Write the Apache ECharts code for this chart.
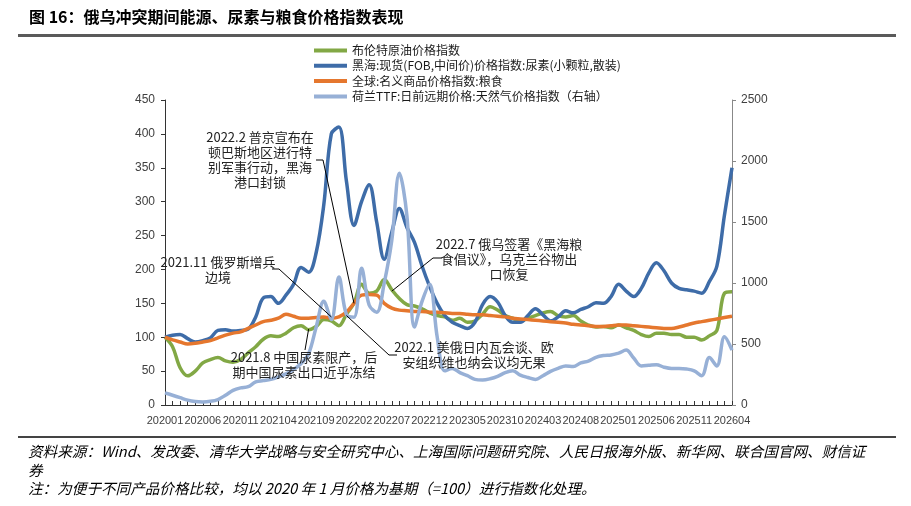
<!DOCTYPE html>
<html>
<head>
<meta charset="utf-8">
<script src="https://cdn.jsdelivr.net/npm/echarts@6/dist/echarts.min.js"></script>
<style>
html, body { margin: 0; padding: 0; background: #fff; }
#main { width: 911px; height: 506px; }
</style>
</head>
<body>
<div id="main"></div>
<script>
// 月份类目 202001 ~ 202604
var months = [];
for (var yr = 2020; yr <= 2026; yr++) {
    for (var mo = 1; mo <= 12; mo++) {
        if (yr === 2026 && mo > 4) break;
        months.push(yr + (mo < 10 ? '0' : '') + mo);
    }
}

var seriesNames = [
    '布伦特原油价格指数',
    '黑海:现货(FOB,中间价)价格指数:尿素(小颗粒,散装)',
    '全球:名义商品价格指数:粮食',
    '荷兰TTF:日前远期价格:天然气价格指数（右轴）'
];

var brent = [
    100, 86, 55, 43, 50, 62, 67, 70, 65, 63, 67, 77,
    86, 97, 102, 101, 106, 114, 117, 111, 116, 126, 124, 117,
    134, 150, 178, 165, 168, 185, 170, 157, 148, 146, 142, 136,
    132, 130, 125, 128, 122, 124, 134, 145, 140, 132, 128, 124,
    128, 132, 136, 138, 132, 130, 132, 124, 118, 115, 116, 114,
    118, 114, 110, 104, 101, 106, 106, 104, 104, 100, 100, 96,
    102, 110, 165, 167
];

var urea = [
    100, 103, 104, 98, 93, 95, 99, 110, 111, 109, 110, 112,
    130, 158, 160, 150, 162, 178, 203, 196, 225, 295, 400, 410,
    330, 265, 300, 325, 270, 215, 255, 290, 262, 240, 205, 175,
    150, 132, 122, 117, 113, 122, 148, 160, 152, 132, 122, 122,
    132, 142, 133, 124, 130, 139, 136, 141, 145, 151, 150, 160,
    178, 168, 160, 172, 195, 210, 198, 180, 172, 170, 168, 165,
    182, 205, 280, 350
];

var grain = [
    100, 96, 93, 90, 91, 93, 95, 99, 103, 106, 108, 113,
    118, 123, 125, 128, 134, 131, 128, 128, 129, 130, 128, 130,
    137, 150, 162, 163, 162, 150, 143, 140, 139, 138, 138, 137,
    137, 136, 135, 135, 134, 133, 133, 132, 131, 130, 128, 127,
    126, 125, 124, 123, 122, 121, 119, 118, 117, 116, 116, 117,
    118, 118, 117, 116, 115, 114, 113, 113, 115, 118, 121, 123,
    125, 127, 129, 131
];

// 右轴
var ttfGas = [
    100, 80, 60, 40, 28, 25, 30, 45, 80, 120, 140, 150,
    190, 200, 210, 230, 255, 290, 340, 420, 640, 850, 700, 1050,
    740, 720, 1120, 820, 760, 1000, 1350, 1900, 1550, 640, 850, 990,
    560, 280, 300, 265, 240, 210, 205, 215, 235, 265, 280, 245,
    225, 210, 240, 275, 300, 320, 315, 345, 360, 390, 405, 410,
    425, 450, 385, 320, 325, 330, 310, 300, 300, 295, 280, 240,
    390, 320, 560, 450
];

var colors = ['#82a845', '#3e6ca8', '#e5772e', '#97b0d6'];
var cjk = '"Noto Sans CJK SC", "Microsoft YaHei", sans-serif';

var chart = echarts.init(document.getElementById('main'));

function lineSeries(name, data, yIdx) {
    return {
        name: name,
        type: 'line',
        yAxisIndex: yIdx,
        data: data,
        smooth: 0.35,
        showSymbol: false,
        symbol: 'none',
        lineStyle: { width: 3.5 },
        emphasis: { disabled: true }
    };
}

var option = {
    animation: false,
    color: colors,
    textStyle: { fontFamily: cjk },
    legend: {
        orient: 'vertical',
        left: 309,
        top: 39,
        itemWidth: 33,
        itemHeight: 4,
        itemGap: 2.3,
        icon: 'rect',
        textStyle: { fontSize: 12, lineHeight: 13, color: '#1a1a1a', fontFamily: cjk },
        data: seriesNames
    },
    grid: { left: 165, right: 179, top: 100, bottom: 101 },
    xAxis: {
        type: 'category',
        boundaryGap: false,
        data: months,
        axisLine: { lineStyle: { color: '#333', width: 1 } },
        axisTick: { show: true, inside: true, interval: 0, length: 4, lineStyle: { color: '#333' } },
        axisLabel: { interval: 4, fontSize: 11, color: '#404040', margin: 10, fontFamily: 'Liberation Sans, Arial' },
        splitLine: { show: false }
    },
    yAxis: [
        {
            type: 'value',
            min: 0, max: 450, interval: 50,
            axisLine: { show: true, lineStyle: { color: '#333' } },
            axisTick: { show: true, length: 4, lineStyle: { color: '#333' } },
            axisLabel: { fontSize: 12, color: '#404040', margin: 10, fontFamily: 'Liberation Sans, Arial' },
            splitLine: { show: false }
        },
        {
            type: 'value',
            min: 0, max: 2500, interval: 500,
            axisLine: { show: true, lineStyle: { color: '#888' } },
            axisTick: { show: true, length: 4, lineStyle: { color: '#888' } },
            axisLabel: { fontSize: 12, color: '#404040', margin: 9, fontFamily: 'Liberation Sans, Arial',
                         formatter: function (v) { return String(v); } },
            splitLine: { show: false }
        }
    ],
    series: [
        lineSeries(seriesNames[0], brent, 0),
        lineSeries(seriesNames[1], urea, 0),
        lineSeries(seriesNames[2], grain, 0),
        lineSeries(seriesNames[3], ttfGas, 1)
    ]
};
chart.setOption(option);

// 事件标注：文字位置 + 折线指向某月的数据点
var notes = [
    { text: '2022.2 普京宣布在\n顿巴斯地区进行特\n别军事行动，黑海\n港口封锁', x: 260, y: 130,
      hook: [[316, 160], [323, 160]], cat: '202202', val: 150 },
    { text: '2021.11 俄罗斯增兵\n边境', x: 218, y: 255,
      hook: [[272, 269], [279, 269]], cat: '202111', val: 130 },
    { text: '2021.8 中国尿素限产，后\n期中国尿素出口近乎冻结', x: 304, y: 350,
      hook: [[305, 350]], cat: '202108', val: 112 },
    { text: '2022.7 俄乌签署《黑海粮\n食倡议》，乌克兰谷物出\n口恢复', x: 509, y: 237,
      hook: [[442, 258], [433, 258]], cat: '202207', val: 168 },
    { text: '2022.1 美俄日内瓦会谈、欧\n安组织维也纳会议均无果', x: 474, y: 340,
      hook: [[397, 355], [389, 355]], cat: '202201', val: 132 }
];

var graphics = [
    { type: 'text', left: 29, top: 9,
      style: { text: '图 16：俄乌冲突期间能源、尿素与粮食价格指数表现', font: 'bold 16px ' + cjk, fill: '#000' } },
    { type: 'rect', shape: { x: 18, y: 34, width: 878, height: 3 }, style: { fill: '#5a5a5a' } },
    { type: 'rect', shape: { x: 18, y: 436, width: 878, height: 2 }, style: { fill: '#444' } },
    { type: 'text', left: 28, top: 442,
      style: { text: '资料来源：Wind、发改委、清华大学战略与安全研究中心、上海国际问题研究院、人民日报海外版、新华网、联合国官网、财信证\n券',
               font: 'italic 14.6px ' + cjk, lineHeight: 19, fill: '#000' } },
    { type: 'text', left: 28, top: 481,
      style: { text: '注：为便于不同产品价格比较，均以 2020 年 1 月价格为基期（=100）进行指数化处理。',
               font: 'italic 14.6px ' + cjk, fill: '#000' } }
];

notes.forEach(function (n) {
    var p = chart.convertToPixel({ seriesIndex: 0 }, [n.cat, n.val]);
    graphics.push({
        type: 'text',
        style: { text: n.text, x: n.x, y: n.y, align: 'center', textAlign: 'center', verticalAlign: 'top',
                 font: '13px ' + cjk, lineHeight: 15, fill: '#222' },
        z: 10
    });
    graphics.push({
        type: 'polyline',
        shape: { points: n.hook.concat([p]) },
        style: { stroke: '#000', lineWidth: 1, fill: null },
        z: 10
    });
});

chart.setOption({ graphic: graphics });
</script>
</body>
</html>
